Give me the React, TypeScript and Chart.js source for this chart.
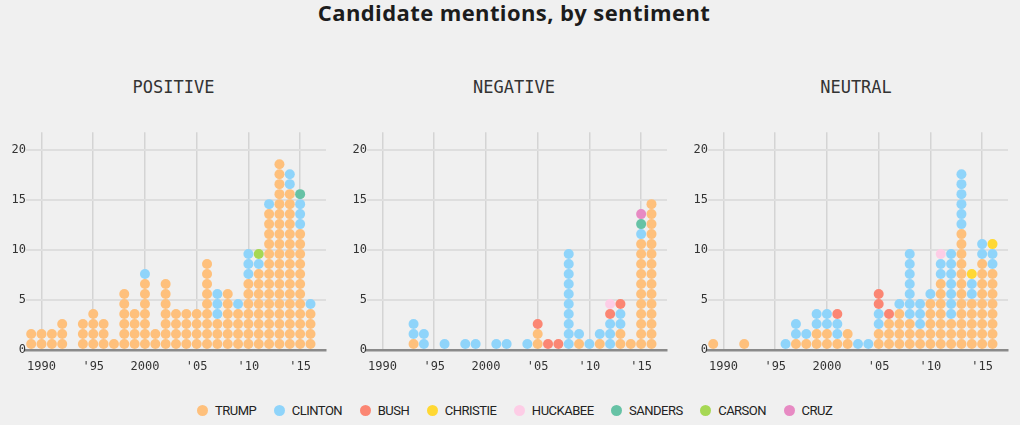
import React, { useEffect, useRef } from "react";
import { Chart, registerables } from "chart.js";

Chart.register(...registerables);

// ---------- DATA ----------
const years = [
  1989, 1990, 1991, 1992, 1993, 1994, 1995, 1996, 1997, 1998, 1999, 2000, 2001, 2002,
  2003, 2004, 2005, 2006, 2007, 2008, 2009, 2010, 2011, 2012, 2013, 2014, 2015, 2016,
];

const candidates = ["TRUMP", "CLINTON", "BUSH", "CHRISTIE", "HUCKABEE", "SANDERS", "CARSON", "CRUZ"];
const candidateColors = ["#FEC07C", "#8FD4FA", "#FB8673", "#FFD833", "#FDCDE6", "#66C2A5", "#A6D854", "#E78AC3"];

// POSITIVE
const positiveTrump = [2, 2, 2, 3, 0, 3, 4, 3, 1, 6, 4, 7, 2, 7, 4, 4, 4, 9, 3, 6, 4, 7, 8, 14, 19, 16, 12, 4];
const positiveClinton = [0, 0, 0, 0, 0, 0, 0, 0, 0, 0, 0, 1, 0, 0, 0, 0, 0, 0, 3, 0, 1, 3, 1, 1, 0, 2, 3, 1];
const positiveSanders = [0, 0, 0, 0, 0, 0, 0, 0, 0, 0, 0, 0, 0, 0, 0, 0, 0, 0, 0, 0, 0, 0, 0, 0, 0, 0, 1, 0];
const positiveCarson = [0, 0, 0, 0, 0, 0, 0, 0, 0, 0, 0, 0, 0, 0, 0, 0, 0, 0, 0, 0, 0, 0, 1, 0, 0, 0, 0, 0];

// NEGATIVE
const negativeTrump = [0, 0, 0, 0, 1, 0, 0, 0, 0, 0, 0, 0, 0, 0, 0, 0, 2, 0, 0, 0, 1, 0, 1, 0, 2, 1, 11, 15];
const negativeClinton = [0, 0, 0, 0, 2, 2, 0, 1, 0, 1, 1, 0, 1, 1, 0, 1, 0, 0, 0, 10, 1, 1, 1, 3, 2, 0, 1, 0];
const negativeBush = [0, 0, 0, 0, 0, 0, 0, 0, 0, 0, 0, 0, 0, 0, 0, 0, 1, 1, 1, 0, 0, 0, 0, 1, 1, 0, 0, 0];
const negativeHuckabee = [0, 0, 0, 0, 0, 0, 0, 0, 0, 0, 0, 0, 0, 0, 0, 0, 0, 0, 0, 0, 0, 0, 0, 1, 0, 0, 0, 0];
const negativeSanders = [0, 0, 0, 0, 0, 0, 0, 0, 0, 0, 0, 0, 0, 0, 0, 0, 0, 0, 0, 0, 0, 0, 0, 0, 0, 0, 1, 0];
const negativeCruz = [0, 0, 0, 0, 0, 0, 0, 0, 0, 0, 0, 0, 0, 0, 0, 0, 0, 0, 0, 0, 0, 0, 0, 0, 0, 0, 1, 0];

// NEUTRAL
const neutralTrump = [1, 0, 0, 1, 0, 0, 0, 0, 1, 1, 2, 2, 1, 2, 0, 0, 2, 3, 4, 3, 2, 5, 7, 3, 12, 5, 9, 8];
const neutralClinton = [0, 0, 0, 0, 0, 0, 0, 1, 2, 1, 2, 2, 2, 0, 1, 1, 2, 0, 1, 7, 3, 1, 2, 7, 6, 2, 2, 2];
const neutralBush = [0, 0, 0, 0, 0, 0, 0, 0, 0, 0, 0, 0, 1, 0, 0, 0, 2, 1, 0, 0, 0, 0, 0, 0, 0, 0, 0, 0];
const neutralChristie = [0, 0, 0, 0, 0, 0, 0, 0, 0, 0, 0, 0, 0, 0, 0, 0, 0, 0, 0, 0, 0, 0, 0, 0, 0, 1, 0, 1];
const neutralHuckabee = [0, 0, 0, 0, 0, 0, 0, 0, 0, 0, 0, 0, 0, 0, 0, 0, 0, 0, 0, 0, 0, 0, 1, 0, 0, 0, 0, 0];

const xTickYears = [1990, 1995, 2000, 2005, 2010, 2015];
const xTickLabels = ["1990", "'95", "2000", "'05", "'10", "'15"];
const yTickValues = [0, 5, 10, 15, 20];

const chartTitle = "Candidate mentions, by sentiment";
const panelTitles = ["POSITIVE", "NEGATIVE", "NEUTRAL"];

type Series = { name: string; counts: number[] };

const panelSeries: Series[][] = [
  [
    { name: "TRUMP", counts: positiveTrump },
    { name: "CLINTON", counts: positiveClinton },
    { name: "SANDERS", counts: positiveSanders },
    { name: "CARSON", counts: positiveCarson },
  ],
  [
    { name: "TRUMP", counts: negativeTrump },
    { name: "CLINTON", counts: negativeClinton },
    { name: "BUSH", counts: negativeBush },
    { name: "HUCKABEE", counts: negativeHuckabee },
    { name: "SANDERS", counts: negativeSanders },
    { name: "CRUZ", counts: negativeCruz },
  ],
  [
    { name: "TRUMP", counts: neutralTrump },
    { name: "CLINTON", counts: neutralClinton },
    { name: "BUSH", counts: neutralBush },
    { name: "CHRISTIE", counts: neutralChristie },
    { name: "HUCKABEE", counts: neutralHuckabee },
  ],
];

// ---------- LAYOUT ----------
const panelLefts = [8, 349, 690];
const panelTitleCenters = [173.5, 514, 856];
const CANVAS_W = 323;
const CANVAS_H = 253;
const CANVAS_TOP = 125;
const MONO = "'DejaVu Sans Mono', monospace";

function colorOf(name: string) {
  return candidateColors[candidates.indexOf(name)];
}

function buildDatasets(series: Series[]) {
  const ordered = [...series].sort((a, b) => candidates.indexOf(a.name) - candidates.indexOf(b.name));
  const heights = years.map(() => 0);
  return ordered.map((s) => {
    const data: { x: number; y: number }[] = [];
    s.counts.forEach((c, i) => {
      for (let k = 0; k < c; k++) data.push({ x: years[i], y: heights[i] + k + 0.6 });
      heights[i] += c;
    });
    return {
      label: s.name,
      data,
      backgroundColor: colorOf(s.name),
      borderWidth: 0,
      pointRadius: 5,
      pointHoverRadius: 5,
    };
  });
}

function Panel({ series, left }: { series: Series[]; left: number }) {
  const ref = useRef<HTMLCanvasElement | null>(null);
  useEffect(() => {
    if (!ref.current) return;
    const chart = new Chart(ref.current, {
      type: "scatter",
      data: { datasets: buildDatasets(series) as any },
      options: {
        responsive: false,
        animation: false,
        events: [],
        layout: { padding: { left: 0, right: 0, top: 6, bottom: 0 } },
        plugins: {
          legend: { display: false },
          tooltip: { enabled: false },
          title: { display: false },
        },
        scales: {
          x: {
            type: "linear",
            min: 1988.5,
            max: 2017.5,
            afterBuildTicks: (s: any) => {
              s.ticks = xTickYears.map((v) => ({ value: v }));
            },
            afterFit: (s: any) => {
              s.height = 28;
            },
            grid: { color: "#d4d4d4", lineWidth: 1.5, drawTicks: false },
            border: { display: true, color: "#8a8a8a", width: 2.5 },
            ticks: {
              padding: 10,
              color: "#333",
              maxRotation: 0,
              autoSkip: false,
              font: { family: MONO, size: 12 },
              callback: (v: any) => {
                const i = xTickYears.indexOf(Number(v));
                return i >= 0 ? xTickLabels[i] : "";
              },
            },
          },
          y: {
            type: "linear",
            min: 0,
            max: 21.8,
            afterBuildTicks: (s: any) => {
              s.ticks = yTickValues.map((v) => ({ value: v }));
            },
            afterFit: (s: any) => {
              s.width = 18;
            },
            grid: {
              color: (ctx: any) => (ctx.tick && ctx.tick.value === 0 ? "rgba(0,0,0,0)" : "#dedede"),
              lineWidth: 2,
              drawTicks: false,
            },
            border: { display: false },
            ticks: {
              padding: 0,
              color: "#333",
              font: { family: MONO, size: 12 },
            },
          },
        },
      },
    });
    return () => chart.destroy();
  }, [series]);
  return (
    <canvas
      ref={ref}
      width={CANVAS_W}
      height={CANVAS_H}
      style={{ position: "absolute", left, top: CANVAS_TOP, width: CANVAS_W, height: CANVAS_H }}
    />
  );
}

export default function App() {
  return (
    <div
      style={{
        position: "absolute",
        left: 0,
        top: 0,
        width: 1020,
        height: 425,
        overflow: "hidden",
        background: "#f0f0f0",
      }}
    >
      <div
        style={{
          position: "absolute",
          left: 0,
          top: 0,
          width: 1028,
          textAlign: "center",
          fontFamily: "'Open Sans', Inter, sans-serif",
          fontWeight: 700,
          fontSize: 22,
          letterSpacing: "0.4px",
          lineHeight: "24px",
          color: "#1c1c1c",
        }}
      >
        {chartTitle}
      </div>
      {panelTitles.map((t, i) => (
        <div
          key={t}
          style={{
            position: "absolute",
            left: panelTitleCenters[i] - 100,
            top: 77,
            width: 200,
            textAlign: "center",
            fontFamily: MONO,
            fontSize: 17,
            lineHeight: "20px",
            color: "#333",
          }}
        >
          {t}
        </div>
      ))}
      {panelTitles.map((t, i) => (
        <Panel key={t} series={panelSeries[i]} left={panelLefts[i]} />
      ))}
      <div
        style={{
          position: "absolute",
          left: 197,
          top: 403,
          height: 14,
          display: "flex",
          alignItems: "center",
          fontFamily: "Roboto, sans-serif",
          fontSize: 13,
          letterSpacing: "-0.5px",
          color: "#222",
          whiteSpace: "nowrap",
        }}
      >
        {candidates.map((c, i) => (
          <div key={c} style={{ display: "flex", alignItems: "center", marginRight: 17.5 }}>
            <span
              style={{
                display: "inline-block",
                width: 11,
                height: 11,
                borderRadius: "50%",
                background: candidateColors[i],
                marginRight: 7,
              }}
            />
            <span>{c}</span>
          </div>
        ))}
      </div>
    </div>
  );
}
